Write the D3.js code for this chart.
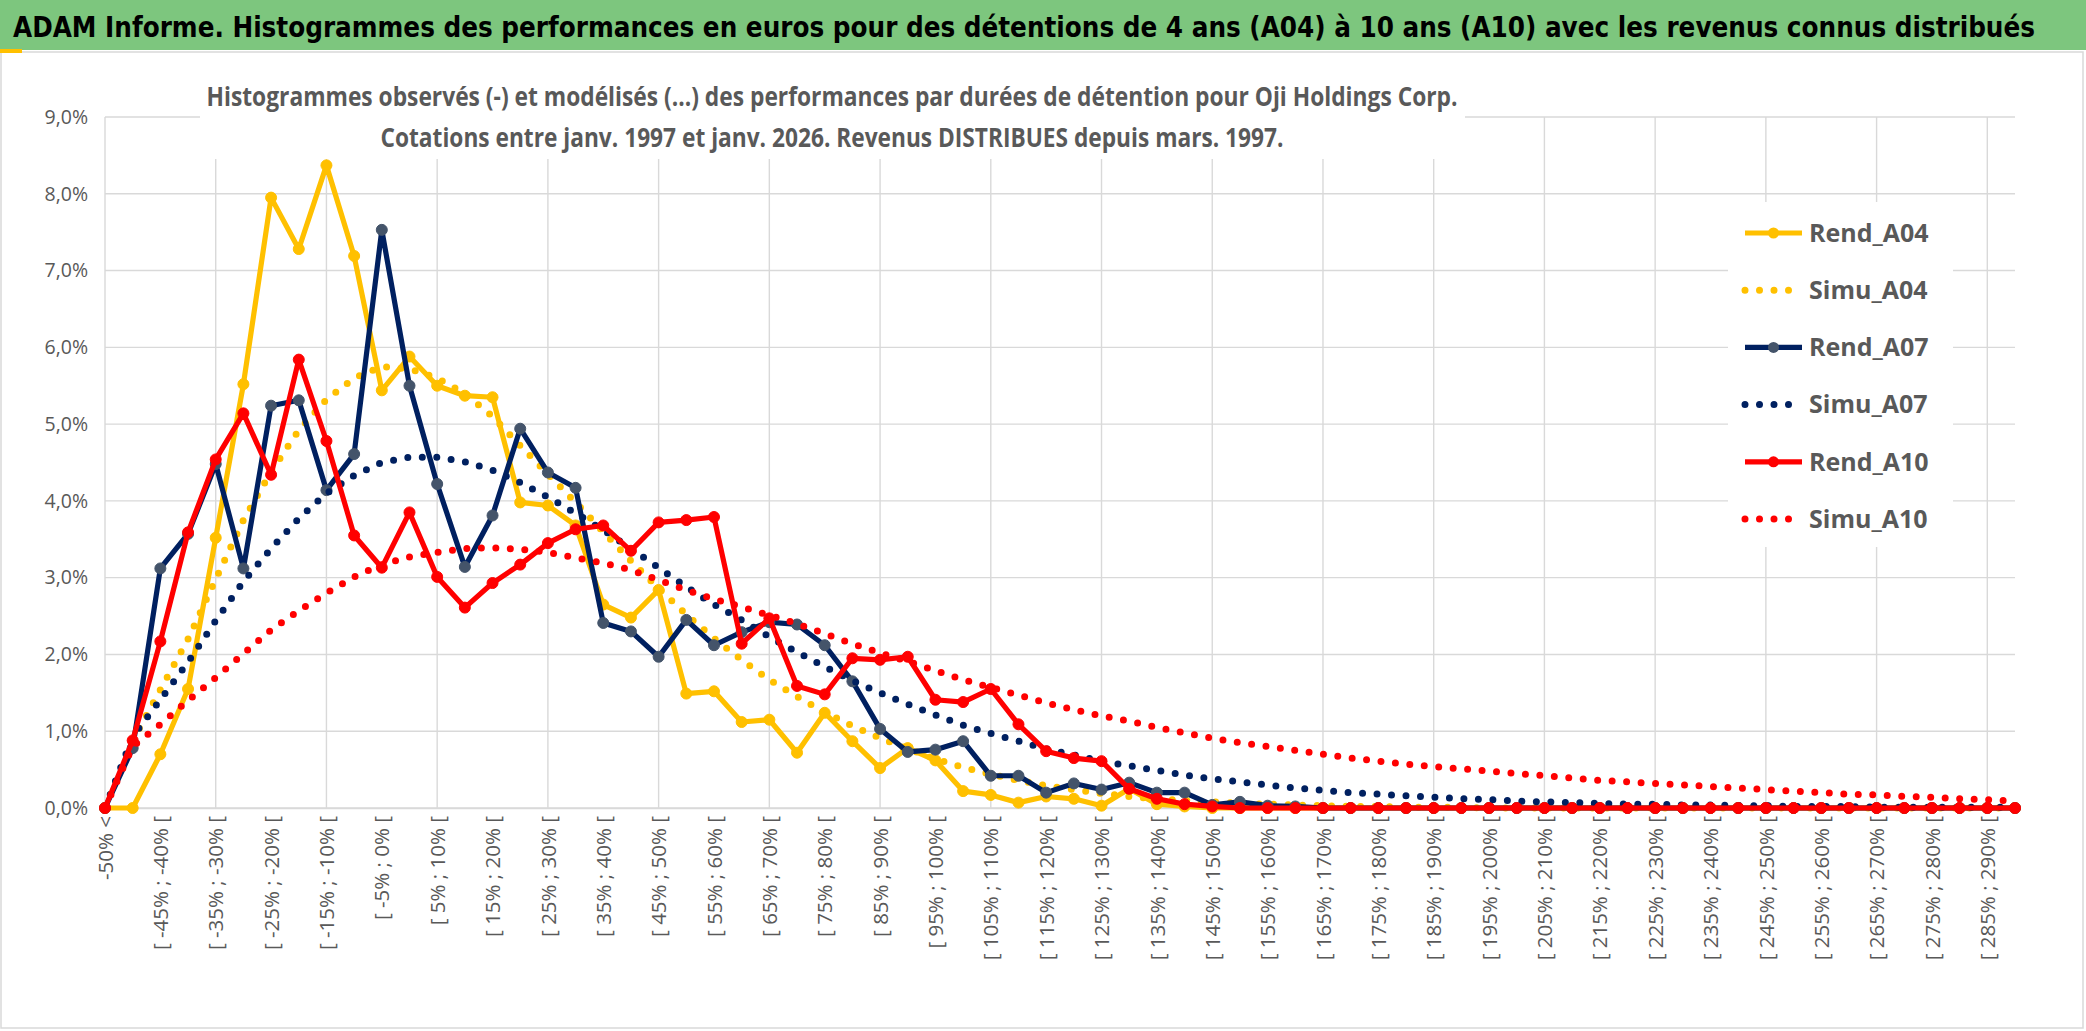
<!DOCTYPE html>
<html>
  <head>
    <meta charset="utf-8">
    <title>ADAM Informe - Oji Holdings Corp.</title>
    <script src="https://d3js.org/d3.v7.min.js"></script>
    <style>
      body { margin: 0; background: #ffffff; }
      svg { display: block; }
      text { font-family: "Open Sans", "Liberation Sans", sans-serif; }
    </style>
  </head>
  <body>
    <svg id="chart" width="2086" height="1031"></svg>
    <script>
      // categories (5% buckets)
      categories = ["-50% <",
        "[ -50% ; -45% [", "[ -45% ; -40% [", "[ -40% ; -35% [", "[ -35% ; -30% [", "[ -30% ; -25% [",
        "[ -25% ; -20% [", "[ -20% ; -15% [", "[ -15% ; -10% [", "[ -10% ; -5% [", "[ -5% ; 0% [",
        "[ 0% ; 5% [", "[ 5% ; 10% [", "[ 10% ; 15% [", "[ 15% ; 20% [", "[ 20% ; 25% [",
        "[ 25% ; 30% [", "[ 30% ; 35% [", "[ 35% ; 40% [", "[ 40% ; 45% [", "[ 45% ; 50% [",
        "[ 50% ; 55% [", "[ 55% ; 60% [", "[ 60% ; 65% [", "[ 65% ; 70% [", "[ 70% ; 75% [",
        "[ 75% ; 80% [", "[ 80% ; 85% [", "[ 85% ; 90% [", "[ 90% ; 95% [", "[ 95% ; 100% [",
        "[ 100% ; 105% [", "[ 105% ; 110% [", "[ 110% ; 115% [", "[ 115% ; 120% [", "[ 120% ; 125% [",
        "[ 125% ; 130% [", "[ 130% ; 135% [", "[ 135% ; 140% [", "[ 140% ; 145% [", "[ 145% ; 150% [",
        "[ 150% ; 155% [", "[ 155% ; 160% [", "[ 160% ; 165% [", "[ 165% ; 170% [", "[ 170% ; 175% [",
        "[ 175% ; 180% [", "[ 180% ; 185% [", "[ 185% ; 190% [", "[ 190% ; 195% [", "[ 195% ; 200% [",
        "[ 200% ; 205% [", "[ 205% ; 210% [", "[ 210% ; 215% [", "[ 215% ; 220% [", "[ 220% ; 225% [",
        "[ 225% ; 230% [", "[ 230% ; 235% [", "[ 235% ; 240% [", "[ 240% ; 245% [", "[ 245% ; 250% [",
        "[ 250% ; 255% [", "[ 255% ; 260% [", "[ 260% ; 265% [", "[ 265% ; 270% [", "[ 270% ; 275% [",
        "[ 275% ; 280% [", "[ 280% ; 285% [", "[ 285% ; 290% [", "[ 290% ; 295% ["];
      // observed and modelled frequencies (in %)
      rendA04 = [0, 0, 0.70, 1.55, 3.52, 5.52, 7.95, 7.28, 8.37, 7.19,
        5.44, 5.88, 5.50, 5.37, 5.35, 3.98, 3.94, 3.68, 2.65, 2.48,
        2.84, 1.49, 1.52, 1.12, 1.15, 0.72, 1.24, 0.87, 0.52, 0.78,
        0.62, 0.22, 0.17, 0.07, 0.15, 0.12, 0.03, 0.25, 0.05, 0.02,
        0, 0, 0, 0, 0, 0, 0, 0, 0, 0,
        0, 0, 0, 0, 0, 0, 0, 0, 0, 0,
        0, 0, 0, 0, 0, 0, 0, 0, 0, 0];
      simuA04 = [0, 0.88, 1.54, 2.20, 2.98, 3.75, 4.38, 4.92, 5.32, 5.60,
        5.75, 5.72, 5.60, 5.40, 5.10, 4.72, 4.35, 3.98, 3.60, 3.22,
        2.86, 2.52, 2.21, 1.93, 1.67, 1.45, 1.25, 1.07, 0.91, 0.77,
        0.64, 0.53, 0.44, 0.36, 0.29, 0.24, 0.19, 0.15, 0.12, 0.10,
        0.08, 0.06, 0.05, 0.04, 0.03, 0.02, 0.02, 0.01, 0.01, 0.01,
        0, 0, 0, 0, 0, 0, 0, 0, 0, 0,
        0, 0, 0, 0, 0, 0, 0, 0, 0, 0];
      rendA07 = [0, 0.78, 3.12, 3.57, 4.48, 3.12, 5.24, 5.31, 4.14, 4.61,
        7.53, 5.50, 4.22, 3.14, 3.81, 4.94, 4.37, 4.17, 2.41, 2.30,
        1.97, 2.45, 2.12, 2.29, 2.42, 2.39, 2.12, 1.65, 1.03, 0.73,
        0.76, 0.87, 0.42, 0.42, 0.20, 0.32, 0.24, 0.33, 0.20, 0.20,
        0.04, 0.08, 0.03, 0.02, 0, 0, 0, 0, 0, 0,
        0, 0, 0, 0, 0, 0, 0, 0, 0, 0,
        0, 0, 0, 0, 0, 0, 0, 0, 0, 0];
      simuA07 = [0, 0.93, 1.41, 1.90, 2.44, 2.95, 3.38, 3.77, 4.10, 4.33,
        4.50, 4.57, 4.57, 4.51, 4.40, 4.24, 4.05, 3.84, 3.62, 3.38,
        3.13, 2.88, 2.65, 2.45, 2.23, 2.03, 1.84, 1.66, 1.50, 1.35,
        1.21, 1.08, 0.97, 0.87, 0.77, 0.69, 0.61, 0.55, 0.49, 0.43,
        0.38, 0.34, 0.30, 0.26, 0.23, 0.20, 0.18, 0.16, 0.14, 0.12,
        0.11, 0.09, 0.08, 0.07, 0.06, 0.05, 0.05, 0.04, 0.04, 0.03,
        0.03, 0.02, 0.02, 0.02, 0.01, 0.01, 0.01, 0.01, 0.01, 0.01];
      rendA10 = [0, 0.88, 2.17, 3.59, 4.54, 5.14, 4.34, 5.84, 4.78, 3.55,
        3.13, 3.85, 3.01, 2.61, 2.93, 3.17, 3.45, 3.63, 3.68, 3.35,
        3.72, 3.75, 3.79, 2.14, 2.47, 1.59, 1.48, 1.95, 1.93, 1.97,
        1.41, 1.38, 1.55, 1.09, 0.74, 0.65, 0.61, 0.25, 0.12, 0.05,
        0.02, 0, 0, 0, 0, 0, 0, 0, 0, 0,
        0, 0, 0, 0, 0, 0, 0, 0, 0, 0,
        0, 0, 0, 0, 0, 0, 0, 0, 0, 0];
      simuA10 = [0, 0.80, 1.09, 1.40, 1.70, 2.01, 2.32, 2.57, 2.80, 3.01,
        3.17, 3.27, 3.33, 3.38, 3.39, 3.37, 3.33, 3.26, 3.19, 3.10,
        2.97, 2.84, 2.72, 2.62, 2.51, 2.40, 2.27, 2.14, 2.02, 1.91,
        1.79, 1.67, 1.57, 1.47, 1.37, 1.28, 1.20, 1.13, 1.05, 0.98,
        0.91, 0.85, 0.80, 0.75, 0.70, 0.65, 0.61, 0.57, 0.54, 0.51,
        0.48, 0.45, 0.42, 0.39, 0.36, 0.34, 0.32, 0.30, 0.28, 0.26,
        0.24, 0.22, 0.20, 0.18, 0.17, 0.15, 0.14, 0.12, 0.11, 0.09];
      yTicks = [0, 1, 2, 3, 4, 5, 6, 7, 8, 9];
      seriesNames = ["Rend_A04", "Simu_A04", "Rend_A07", "Simu_A07", "Rend_A10", "Simu_A10"];
      seriesValues = [rendA04, simuA04, rendA07, simuA07, rendA10, simuA10];
      mainTitle = "ADAM Informe. Histogrammes des performances en euros pour des détentions de 4 ans (A04) à 10 ans (A10) avec les revenus connus distribués";
      chartTitle = ["Histogrammes observés (-) et modélisés (...) des performances par durées de détention pour Oji Holdings Corp.",
        "Cotations entre janv. 1997 et janv. 2026. Revenus DISTRIBUES depuis mars. 1997."];

      // styles per series
      colours = ["#ffc000", "#ffc000", "#002060", "#002060", "#ff0000", "#ff0000"];
      markerFill = ["#ffc000", null, "#44546a", null, "#ff0000", null];
      dotted = [false, true, false, true, false, true];

      // page elements
      svg = d3.select("#chart");
      width = 2086;
      height = 1031;
      margin = { top: 117, right: 71, bottom: 223, left: 105 };
      grey = "#595959";
      gridColour = "#d9d9d9";
      fr = d3.formatLocale({ decimal: ",", thousands: " ", grouping: [3], currency: ["", " €"] });
      pct = function(d) { return fr.format(".1f")(d) + "%"; };

      // scales
      x = d3.scalePoint()
        .domain(categories)
        .range([margin.left, width - margin.right]);
      y = d3.scaleLinear()
        .domain([0, 9])
        .range([height - margin.bottom, margin.top]);

      // chart frame
      svg.append("rect")
        .attr("x", 1).attr("y", 52)
        .attr("width", width - 4).attr("height", height - 55)
        .attr("fill", "#ffffff")
        .attr("stroke", gridColour)
        .attr("stroke-width", 1.5);

      // gridlines
      gridGroup = svg.append("g");
      gridGroup.selectAll(".hgrid")
        .data(yTicks)
        .join("line")
        .attr("x1", margin.left)
        .attr("x2", width - margin.right)
        .attr("y1", function(d) { return y(d); })
        .attr("y2", function(d) { return y(d); })
        .attr("stroke", gridColour)
        .attr("stroke-width", 1.4);
      gridGroup.selectAll(".vgrid")
        .data(categories.filter(function(d, i) { return i % 4 == 0; }))
        .join("line")
        .attr("x1", function(d) { return x(d); })
        .attr("x2", function(d) { return x(d); })
        .attr("y1", y(9))
        .attr("y2", y(0))
        .attr("stroke", gridColour)
        .attr("stroke-width", 1.4);

      // axes
      yAxis = d3.axisLeft(y)
        .tickValues(yTicks)
        .tickFormat(pct)
        .tickSize(0)
        .tickPadding(17);
      yGroup = svg.append("g")
        .attr("transform", "translate(" + margin.left + ",0)")
        .call(yAxis);
      yGroup.select(".domain").remove();
      yGroup.selectAll("text")
        .attr("fill", grey)
        .style("font-size", "19.5px")
        .style("font-family", "'Open Sans', sans-serif");

      xAxis = d3.axisBottom(x)
        .tickValues(categories.filter(function(d, i) { return i % 2 == 0; }))
        .tickSize(0);
      xGroup = svg.append("g")
        .attr("transform", "translate(0," + y(0) + ")")
        .call(xAxis);
      xGroup.select(".domain").attr("stroke", gridColour).attr("stroke-width", 1.4);
      xGroup.selectAll("text")
        .attr("fill", grey)
        .style("font-size", "20.5px")
        .style("font-family", "'Open Sans', sans-serif")
        .attr("text-anchor", "end")
        .attr("dy", "0.35em")
        .attr("y", 0)
        .attr("transform", "translate(0,8) rotate(-90)");

      // series
      line = d3.line()
        .x(function(d, i) { return x(categories[i]); })
        .y(function(d) { return y(d); });
      plotGroup = svg.append("g");
      seriesValues.forEach(function(values, s) {
        let path = plotGroup.append("path")
          .attr("d", line(values))
          .attr("fill", "none")
          .attr("stroke", colours[s])
          .attr("stroke-linejoin", "round");
        if (dotted[s]) {
          path.attr("stroke-width", 7)
            .attr("stroke-linecap", "round")
            .attr("stroke-dasharray", "0 14.5");
        } else {
          path.attr("stroke-width", 5.2);
          plotGroup.selectAll(".m" + s)
            .data(values)
            .join("circle")
            .attr("cx", function(d, i) { return x(categories[i]); })
            .attr("cy", function(d) { return y(d); })
            .attr("r", 5.5)
            .attr("fill", markerFill[s])
            .attr("stroke", markerFill[s]);
        }
      });

      // chart title box
      svg.append("rect")
        .attr("x", 200).attr("y", 70)
        .attr("width", 1265).attr("height", 89)
        .attr("fill", "#ffffff");
      svg.selectAll(".ctitle")
        .data(chartTitle)
        .join("text")
        .attr("x", 832)
        .attr("y", function(d, i) { return 106 + i * 41; })
        .attr("text-anchor", "middle")
        .attr("fill", grey)
        .attr("font-weight", "bold")
        .attr("textLength", function(d, i) { return i == 0 ? 1251 : 903; })
        .attr("lengthAdjust", "spacingAndGlyphs")
        .style("font-size", "27px")
        .text(function(d) { return d; });

      // legend
      legendGroup = svg.append("g");
      legendGroup.append("rect")
        .attr("x", 1728).attr("y", 202)
        .attr("width", 225).attr("height", 345)
        .attr("fill", "#ffffff");
      seriesNames.forEach(function(name, s) {
        let ly = 233 + s * 57.2;
        let item = legendGroup.append("g");
        item.append("line")
          .attr("x1", 1745).attr("x2", 1802)
          .attr("y1", ly).attr("y2", ly)
          .attr("stroke", colours[s])
          .attr("stroke-width", dotted[s] ? 7 : 5.2)
          .attr("stroke-linecap", dotted[s] ? "round" : "butt")
          .attr("stroke-dasharray", dotted[s] ? "0 14.5" : null);
        if (!dotted[s]) {
          item.append("circle")
            .attr("cx", 1773.5).attr("cy", ly)
            .attr("r", 5.5)
            .attr("fill", markerFill[s]);
        }
        item.append("text")
          .attr("x", 1809)
          .attr("y", ly)
          .attr("dy", "0.35em")
          .attr("fill", grey)
          .attr("font-weight", "bold")
          .style("font-size", "25px")
          .text(name);
      });

      // banner
      svg.append("rect")
        .attr("x", 0).attr("y", 0)
        .attr("width", width).attr("height", 50)
        .attr("fill", "#7dc67e");
      svg.append("rect")
        .attr("x", 0).attr("y", 49)
        .attr("width", 22).attr("height", 4)
        .attr("fill", "#ffc000");
      svg.append("text")
        .attr("transform", "translate(13,37) scale(1,1.15)")
        .attr("fill", "#000000")
        .attr("font-weight", "bold")
        .attr("textLength", 2022)
        .attr("lengthAdjust", "spacingAndGlyphs")
        .style("font-size", "24px")
        .style("font-family", "'Liberation Sans Narrow', 'DejaVu Sans Condensed', 'Open Sans', sans-serif")
        .text(mainTitle);
    </script>
  </body>
</html>
